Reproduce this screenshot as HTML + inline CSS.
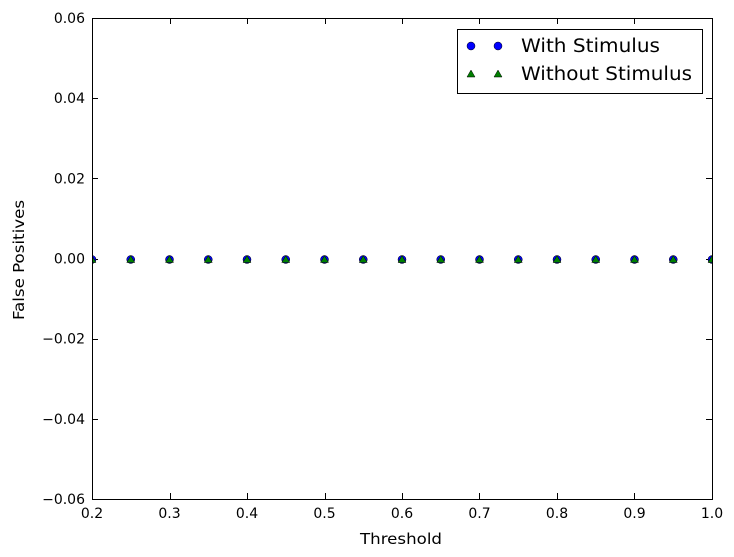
<!DOCTYPE html>
<html><head><meta charset="utf-8"><style>
body{margin:0;background:#fff;}
svg{display:block;font-family:"DejaVu Sans","Liberation Sans",sans-serif;}
</style></head><body>
<svg id="chart" width="734" height="557" viewBox="0 0 734 557" xmlns="http://www.w3.org/2000/svg">
<defs><clipPath id="clip"><rect x="92" y="18" width="620" height="481"/></clipPath></defs>
<rect width="734" height="557" fill="#fff"/>
<g id="ticks"></g>
<g id="marks" clip-path="url(#clip)"></g>
<rect x="92.5" y="18.5" width="620" height="481" fill="none" stroke="#000" stroke-width="1"/>
<text x="360" y="544" font-size="15.5" textLength="82" lengthAdjust="spacingAndGlyphs">Threshold</text>
<text transform="translate(24,320) rotate(-90)" font-size="15.5" textLength="120" lengthAdjust="spacingAndGlyphs">False Positives</text>
<g>
<rect x="457.5" y="29.5" width="245" height="64" fill="#fff" stroke="#000"/>
<circle cx="471" cy="46" r="4" fill="#0000ff" stroke="#000" stroke-width="0.5"/>
<circle cx="498" cy="46" r="4" fill="#0000ff" stroke="#000" stroke-width="0.5"/>
<text x="521" y="52" font-size="18.5" textLength="139" lengthAdjust="spacingAndGlyphs">With Stimulus</text>
<polygon points="471,70 475,77 467,77" fill="#007f00" stroke="#000" stroke-width="0.5"/>
<polygon points="498,70 502,77 494,77" fill="#007f00" stroke="#000" stroke-width="0.5"/>
<text x="521" y="80" font-size="18.5" textLength="171" lengthAdjust="spacingAndGlyphs">Without Stimulus</text>
</g>
</svg>
<script>
const thresholds=[0.2,0.25,0.3,0.35,0.4,0.45,0.5,0.55,0.6,0.65,0.7,0.75,0.8,0.85,0.9,0.95,1.0];
const withStim=[0,0,0,0,0,0,0,0,0,0,0,0,0,0,0,0,0];
const withoutStim=[0,0,0,0,0,0,0,0,0,0,0,0,0,0,0,0,0];
const xTicks=[0.2,0.3,0.4,0.5,0.6,0.7,0.8,0.9,1.0];
const yTicks=[-0.06,-0.04,-0.02,0,0.02,0.04,0.06];
const yTickLabels=["\u22120.06","\u22120.04","\u22120.02","0.00","0.02","0.04","0.06"];
const X0=92,X1=712,Y0=499,Y1=18;
function sx(v){return X0+(v-0.2)/(1.0-0.2)*(X1-X0);}
function sy(v){return Y0-(v+0.06)/0.12*(Y0-Y1);}
const NS="http://www.w3.org/2000/svg";
const tg=document.getElementById('ticks'),mg=document.getElementById('marks');
function mk(t,a,p){const e=document.createElementNS(NS,t);for(const k in a)e.setAttribute(k,a[k]);p.appendChild(e);return e;}
xTicks.forEach(v=>{const x=Math.round(sx(v))+0.5;
 const l1=mk('line',{x1:x,x2:x,y1:Y0,y2:Y0-6,stroke:'#000'},tg);
 
 
 mk('line',{x1:x,x2:x,y1:Y1,y2:Y1+6,stroke:'#000'},tg);
 const t=mk('text',{x:sx(v),y:Y0+19,'font-size':14,'text-anchor':'middle'},tg);t.textContent=v.toFixed(1);
 
 });
yTicks.forEach((v,i)=>{const y=Math.round(sy(v))+0.5;
 const l1=mk('line',{x1:X0,x2:X0+6,y1:y,y2:y,stroke:'#000'},tg);
 
 
 mk('line',{x1:X1,x2:X1-6,y1:y,y2:y,stroke:'#000'},tg);
 const t=mk('text',{x:X0-7,y:sy(v)+5,'font-size':14,'text-anchor':'end'},tg);t.textContent=yTickLabels[i];
 
 });
thresholds.forEach((th,i)=>{const x=sx(th),y=sy(withStim[i])+1;
 const c=mk('circle',{cx:x,cy:y,r:4,fill:'#0000ff',stroke:'#000','stroke-width':0.5},mg);
 
 });
thresholds.forEach((th,i)=>{const x=sx(th),y=sy(withoutStim[i])+1;
 const p=mk('polygon',{points:`${x},${y-4} ${x+4},${y+3} ${x-4},${y+3}`,fill:'#007f00',stroke:'#000','stroke-width':0.5},mg);
 
 });
</script>
</body></html>
